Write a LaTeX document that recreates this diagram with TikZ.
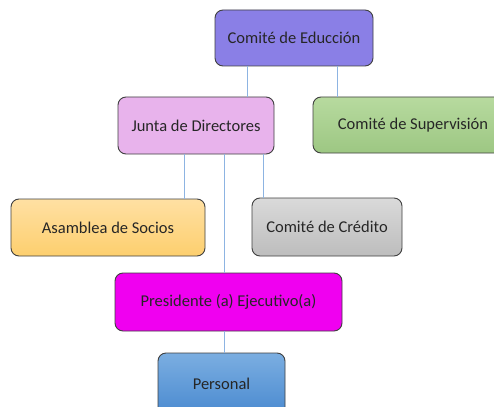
\documentclass[tikz,border=0pt]{standalone}
\usepackage{fontspec}
\setmainfont{Carlito}
\definecolor{edge}{HTML}{404040}
\definecolor{link}{HTML}{8DB4E2}
\definecolor{educ}{HTML}{8A7FE6}
\definecolor{junta}{HTML}{E8B3EC}
\definecolor{supA}{HTML}{B7DA9F}
\definecolor{supB}{HTML}{9DC783}
\definecolor{asaA}{HTML}{FFE0A3}
\definecolor{asaB}{HTML}{FDCF6E}
\definecolor{creA}{HTML}{DADADA}
\definecolor{creB}{HTML}{BDBDBD}
\definecolor{pres}{HTML}{F000F0}
\definecolor{perA}{HTML}{7BAEE1}
\definecolor{perB}{HTML}{4A8AD0}
\tikzset{
  box/.style={draw=edge, line width=0.9pt, rounded corners=8pt, inner sep=0pt,
    font=\fontsize{16.5}{18}\selectfont, text=black!85},
  link/.style={draw=link, line width=0.9pt}
}
\begin{document}
\begin{tikzpicture}[x=1pt,y=-1pt]
\useasboundingbox (0,0) rectangle (494,406);
\fill[white] (0,0) rectangle (494,406);
\clip (0,0) rectangle (494,406);
\node[box, fill=educ, minimum width=158pt, minimum height=56pt] (educ) at (294,38) {Comité de Educción};
\node[box, fill=junta, minimum width=156pt, minimum height=57pt] (junta) at (196,125.5) {Junta de Directores};
\node[box, top color=supA, bottom color=supB, minimum width=200pt, minimum height=56pt] (sup) at (413,125) {Comité de Supervisión};
\node[box, top color=asaA, bottom color=asaB, minimum width=194pt, minimum height=57pt] (asa) at (108,227.5) {Asamblea de Socios};
\node[box, top color=creA, bottom color=creB, minimum width=150pt, minimum height=58pt] (cre) at (327,227) {Comité de Crédito};
\node[box, fill=pres, minimum width=227pt, minimum height=58pt] (pres) at (228.5,302) {Presidente (a) Ejecutivo(a)};
\node[box, top color=perA, bottom color=perB, minimum width=127pt, minimum height=62pt] (per) at (221.5,384) {Personal};
\draw[link] ([xshift=-47pt]educ.south) -- ([xshift=51pt]junta.north);
\draw[link] ([xshift=43pt]educ.south) -- ([xshift=-76pt]sup.north);
\draw[link] ([xshift=-12pt]junta.south) -- ([xshift=76pt]asa.north);
\draw[link] ([xshift=28.5pt]junta.south) -- ([xshift=-4pt]pres.north);
\draw[link] ([xshift=67pt]junta.south) -- ([xshift=-64pt]cre.north);
\draw[link] ([xshift=-4pt]pres.south) -- ([xshift=3pt]per.north);
\end{tikzpicture}
\end{document}
